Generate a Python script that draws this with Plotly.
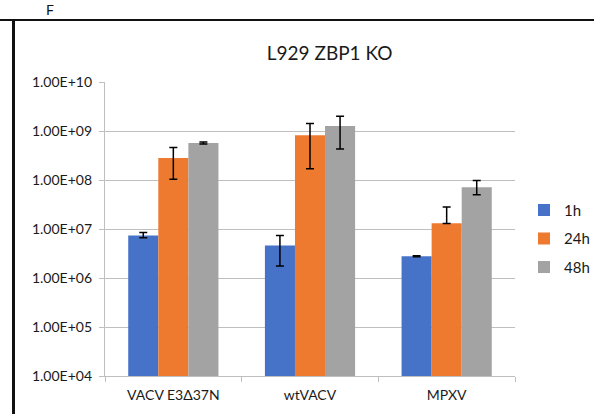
import plotly.graph_objects as go

# Virus strains on the x axis
categories = ["VACV E3Δ37N", "wtVACV", "MPXV"]

# Titre per time point (mean, upper error, lower error)
series_names = ["1h", "24h", "48h"]
values_1h = [7.4e6, 4.6e6, 2.77e6]
upper_1h = [8.5e6, 7.4e6, 2.85e6]
lower_1h = [6.6e6, 1.75e6, 2.7e6]

values_24h = [2.8e8, 8.2e8, 1.31e7]
upper_24h = [4.6e8, 1.43e9, 2.8e7]
lower_24h = [1.04e8, 1.69e8, 1.30e7]

values_48h = [5.66e8, 1.26e9, 7.1e7]
upper_48h = [5.95e8, 2.0e9, 9.8e7]
lower_48h = [5.4e8, 4.27e8, 5.0e7]

tick_values = [1e4, 1e5, 1e6, 1e7, 1e8, 1e9, 1e10]
tick_labels = ["1.00E+04", "1.00E+05", "1.00E+06", "1.00E+07",
               "1.00E+08", "1.00E+09", "1.00E+10"]

colors = ["#4672C8", "#EE7A30", "#A3A3A3"]

FONT = "Lato, 'Open Sans', sans-serif"
TEXT = "#1a1a1a"

fig = go.Figure()
for name, vals, up, lo, col in zip(
    series_names,
    [values_1h, values_24h, values_48h],
    [upper_1h, upper_24h, upper_48h],
    [lower_1h, lower_24h, lower_48h],
    colors,
):
    fig.add_trace(go.Bar(
        name=name,
        x=categories,
        y=vals,
        marker=dict(color=col, line=dict(width=0)),
        legendgroup=name,
        error_y=dict(
            type="data",
            symmetric=False,
            array=[u - v for u, v in zip(up, vals)],
            arrayminus=[v - l for v, l in zip(vals, lo)],
            color="#000000",
            thickness=1.5,
            width=4,
        ),
    ))

fig.update_layout(
    width=594,
    height=414,
    margin=dict(l=105, r=79, t=82, b=38, autoexpand=False),
    paper_bgcolor="white",
    plot_bgcolor="white",
    barmode="group",
    bargap=0.34,
    bargroupgap=0,
    font=dict(family=FONT, size=14, color=TEXT),
    title=dict(
        text="L929 ZBP1 KO",
        x=0.555, xanchor="center",
        y=1 - 53 / 414, yanchor="middle",
        font=dict(family=FONT, size=19, color=TEXT),
    ),
    legend=dict(
        x=(524 - 105) / 410, xanchor="left",
        y=0.62, yanchor="top",
        font=dict(family=FONT, size=15, color=TEXT),
        tracegroupgap=6,
        itemwidth=30,
        bgcolor="rgba(0,0,0,0)",
    ),
    showlegend=True,
)

fig.update_yaxes(
    type="log",
    range=[4, 10],
    tickvals=tick_values,
    ticktext=tick_labels,
    showgrid=True,
    gridcolor="#BFBFBF",
    gridwidth=1.3,
    showline=True,
    linecolor="#BFBFBF",
    linewidth=1.3,
    ticks="outside",
    ticklen=5,
    tickcolor="#BFBFBF",
    ticklabelstandoff=4,
    automargin=False,
    zeroline=False,
    tickfont=dict(family=FONT, size=14, color=TEXT),
)

fig.update_xaxes(
    showline=True,
    linecolor="#BFBFBF",
    linewidth=1.3,
    ticks="outside",
    tickson="boundaries",
    ticklen=5,
    tickcolor="#BFBFBF",
    ticklabelstandoff=6,
    automargin=False,
    tickfont=dict(family=FONT, size=14, color=TEXT),
)

# Panel frame: heavy rule along the top and left edge, with the panel letter
fig.add_shape(type="line", xref="paper", yref="paper",
              x0=-105 / 410, x1=(594 - 105) / 410,
              y0=1 + (82 - 20) / 294, y1=1 + (82 - 20) / 294,
              line=dict(color="#111111", width=2))
fig.add_shape(type="line", xref="paper", yref="paper",
              x0=-(105 - 13.5) / 410, x1=-(105 - 13.5) / 410,
              y0=-38 / 294, y1=1 + (82 - 20) / 294,
              line=dict(color="#111111", width=3))
fig.add_annotation(text="F", xref="paper", yref="paper",
                   x=-(105 - 50) / 410, y=1 + (82 - 10) / 294,
                   xanchor="center", yanchor="middle", showarrow=False,
                   font=dict(family=FONT, size=14, color="#111111"))

fig.write_html("out.html")
